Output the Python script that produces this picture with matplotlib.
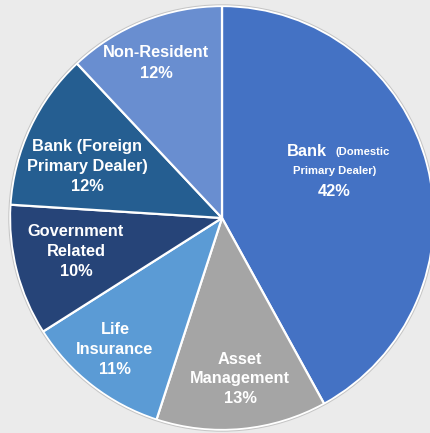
import matplotlib
matplotlib.use("Agg")
import matplotlib.pyplot as plt
from matplotlib.patches import Circle

# Holder categories and their shares (%), clockwise from 12 o'clock
categories = ["Bank (Domestic Primary Dealer)", "Asset Management", "Life Insurance",
              "Government Related", "Bank (Foreign Primary Dealer)", "Non-Resident"]
shares = [42, 13, 11, 10, 12, 12]
colors = ["#4472C4", "#A5A5A5", "#5B9BD5", "#264478", "#255E91", "#698ED0"]

W, H = 431, 433
fig = plt.figure(figsize=(W / 100, H / 100), dpi=100)
fig.patch.set_facecolor("#ebebeb")
ax = fig.add_axes([0, 0, 1, 1])

# pixel-like coordinates, measured from the top-left corner
cx, cy, r = 222, 218, 212

def Y(y):
    return H - y

wedges, _ = ax.pie(shares, colors=colors, startangle=90, counterclock=False,
                   center=(cx, Y(cy)), radius=r, frame=True,
                   wedgeprops=dict(edgecolor="white", linewidth=1.6))
ax.set_xlim(0, W)
ax.set_ylim(0, H)
ax.set_aspect("equal")
ax.axis("off")
ax.add_patch(Circle((cx, Y(cy)), r + 1.2, fill=False, edgecolor="#c4c4c4", linewidth=0.7))

font = dict(family=["Liberation Sans", "DejaVu Sans"], color="white",
            fontweight="bold", ha="center", va="center")
big = 11.8
small = 8.1

def lines(x, y0, texts, step=20):
    for i, t in enumerate(texts):
        ax.text(x, Y(y0 + i * step), t, fontsize=big, **font)

# Bank (Domestic Primary Dealer)
ax.text(307, Y(151), "Bank", fontsize=big, **font)
ax.text(363, Y(152), "(Domestic", fontsize=small, **font)
ax.text(335, Y(171), "Primary Dealer)", fontsize=small, **font)
ax.text(334, Y(191), f"{shares[0]}%", fontsize=big, **font)

lines(240, 359, ["Asset", "Management", f"{shares[1]}%"])
lines(115, 329, ["Life", "Insurance", f"{shares[2]}%"])
lines(76, 232, ["Government", "Related", f"{shares[3]}%"])
lines(87, 146, ["Bank (Foreign", "Primary Dealer)", f"{shares[4]}%"])
lines(156, 52, ["Non-Resident", f"{shares[5]}%"], step=21)

fig.savefig("out.png", dpi=100, facecolor=fig.get_facecolor())
